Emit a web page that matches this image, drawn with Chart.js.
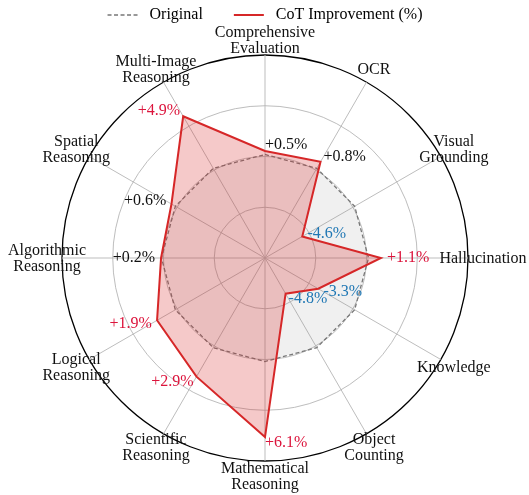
<!DOCTYPE html>
<html>
<head>
<meta charset="utf-8">
<script src="https://cdn.jsdelivr.net/npm/chart.js@4.4.1/dist/chart.umd.min.js"></script>
<style>
    html, body { margin: 0; padding: 0; background: #fff; }
    #wrap { width: 529px; height: 495px; }
</style>
</head>
<body>
<div id="wrap"><canvas id="radarChart" width="529" height="495"></canvas></div>
<script>
// Categories, clockwise from the top
const categories = [
    ['Comprehensive', 'Evaluation'],
    ['OCR'],
    ['Visual', 'Grounding'],
    ['Hallucination'],
    ['Knowledge'],
    ['Object', 'Counting'],
    ['Mathematical', 'Reasoning'],
    ['Scientific', 'Reasoning'],
    ['Logical', 'Reasoning'],
    ['Algorithmic', 'Reasoning'],
    ['Spatial', 'Reasoning'],
    ['Multi-Image', 'Reasoning']
];

// Normalised radius (outer ring = 1)
const originalValues = [0.51, 0.51, 0.51, 0.51, 0.51, 0.51, 0.51, 0.51, 0.51, 0.51, 0.51, 0.51];
const cotValues = [0.527, 0.547, 0.212, 0.571, 0.303, 0.203, 0.882, 0.675, 0.614, 0.512, 0.532, 0.806];

// Improvement in percent, shown next to each point
const improvementPct = [0.5, 0.8, -4.6, 1.1, -3.3, -4.8, 6.1, 2.9, 1.9, 0.2, 0.6, 4.9];
const improvementLabels = ['+0.5%', '+0.8%', '-4.6%', '+1.1%', '-3.3%', '-4.8%', '+6.1%', '+2.9%', '+1.9%', '+0.2%', '+0.6%', '+4.9%'];

const gridTicks = [0.25, 0.5, 0.75, 1];

const FONT = '"Liberation Serif", "Times New Roman", serif';
Chart.defaults.font.family = FONT;
Chart.defaults.font.size = 16;
Chart.defaults.color = '#111';

function labelColor(p) {
    if (p < 0) return '#1f77b4';
    if (p >= 1) return 'crimson';
    return '#111';
}

// Draw category names and the percent labels
const textPlugin = {
    id: 'radarText',
    afterDatasetsDraw(chart) {
        const scale = chart.scales.r;
        const ctx = chart.ctx;
        ctx.save();
        ctx.font = '16px ' + FONT;
        ctx.textBaseline = 'middle';

        cotValues.forEach((v, i) => {
            const p = scale.getPointPosition(i, scale.getDistanceFromCenterForValue(v) + 6);
            ctx.textAlign = i <= 6 ? 'left' : 'right';
            ctx.fillStyle = labelColor(improvementPct[i]);
            ctx.fillText(improvementLabels[i], p.x, p.y);
        });

        ctx.fillStyle = '#111';
        ctx.textAlign = 'center';
        categories.forEach((lines, i) => {
            const p = scale.getPointPosition(i, scale.drawingArea + 15);
            lines.forEach((t, k) => {
                ctx.fillText(t, p.x, p.y + 1 + (k - (lines.length - 1) / 2) * 16);
            });
        });
        ctx.restore();
    }
};

const ctx = document.getElementById('radarChart').getContext('2d');
const radarChart = new Chart(ctx, {
    type: 'radar',
    data: {
        labels: categories.map(c => c.join(' ')),
        datasets: [{
            label: 'Original',
            data: originalValues,
            borderColor: '#777',
            borderWidth: 1.3,
            borderDash: [4, 2.5],
            backgroundColor: 'rgba(128,128,128,0.12)',
            fill: 'origin',
            pointRadius: 0,
            tension: 0,
            order: 2
        }, {
            label: 'CoT Improvement (%)',
            data: cotValues,
            borderColor: '#d62728',
            borderWidth: 2,
            backgroundColor: 'rgba(214,39,40,0.25)',
            fill: 'origin',
            pointRadius: 0,
            tension: 0,
            order: 1
        }]
    },
    options: {
        responsive: false,
        animation: false,
        layout: { padding: { left: 62, right: 61, top: 0, bottom: 12 } },
        plugins: {
            tooltip: { enabled: false },
            legend: {
                position: 'top',
                labels: {
                    usePointStyle: true,
                    pointStyleWidth: 30,
                    padding: 7,
                    color: '#111',
                    font: { size: 16, family: FONT },
                    generateLabels(chart) {
                        return chart.data.datasets.map((ds, i) => ({
                            text: i === 0 ? ' ' + ds.label + '      ' : ' ' + ds.label,
                            strokeStyle: ds.borderColor,
                            fillStyle: ds.borderColor,
                            lineWidth: ds.borderWidth,
                            lineDash: ds.borderDash || [],
                            pointStyle: 'line',
                            datasetIndex: i,
                            hidden: false
                        }));
                    }
                }
            }
        },
        scales: {
            r: {
                min: 0,
                max: 1,
                startAngle: 0,
                afterBuildTicks(scale) {
                    scale.ticks = [0].concat(gridTicks).map(v => ({ value: v }));
                },
                ticks: { display: false },
                pointLabels: { display: false },
                angleLines: { color: '#b5b5b5', lineWidth: 0.9 },
                grid: {
                    circular: true,
                    color: c => (c.tick && c.tick.value === 1 ? '#000' : '#b5b5b5'),
                    lineWidth: c => (c.tick && c.tick.value === 1 ? 1.3 : 0.9)
                }
            }
        }
    },
    plugins: [textPlugin]
});
</script>
</body>
</html>
